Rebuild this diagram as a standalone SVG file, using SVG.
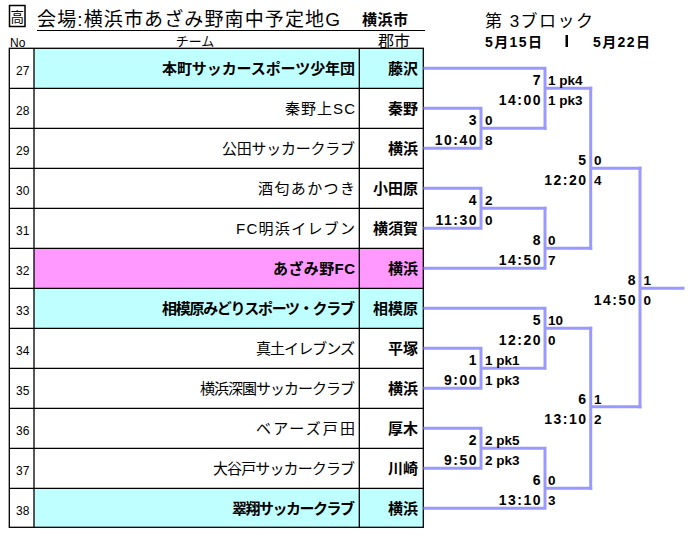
<svg xmlns="http://www.w3.org/2000/svg" width="692" height="555" viewBox="0 0 692 555">
<style>
text{font-family:"Liberation Sans","Noto Sans CJK JP",sans-serif;fill:#000}
.num{font-size:12px}
.team{font-size:15px;text-anchor:end}
.teamb{font-size:15px;text-anchor:end;font-weight:bold}
.city{font-size:15px;text-anchor:end;font-weight:bold}
.grid{stroke:#000;stroke-width:1.3;fill:none}
.conn{stroke:#9999ff;stroke-width:3;fill:none;stroke-linecap:square}
.ml{font-size:14px;font-weight:bold;text-anchor:end;letter-spacing:1.5px}
.mr{font-size:13.5px;font-weight:bold}
.cy{fill:#c0ffff}
.pk{fill:#ff99ff}
</style>
<rect width="692" height="555" fill="#fff"/>
<g id="header">
<rect x="9.5" y="5.5" width="15.5" height="21" fill="none" stroke="#000" stroke-width="1.5"/>
<text x="17.25" y="21.5" font-size="13.5" text-anchor="middle">高</text>
<text x="37" y="26" font-size="19" textLength="303" lengthAdjust="spacing">会場:横浜市あざみ野南中予定地G</text>
<text x="362" y="25" font-size="15" font-weight="bold" textLength="46" lengthAdjust="spacing">横浜市</text>
<line x1="37" y1="30.5" x2="425" y2="30.5" stroke="#000" stroke-width="1"/>
<text x="10" y="47" font-size="12">No</text>
<text x="195" y="46" font-size="13" text-anchor="middle">チーム</text>
<text x="378" y="47" font-size="16">郡市</text>
<text x="485" y="27" font-size="17" textLength="108" lengthAdjust="spacing">第 3ブロック</text>
<text x="485" y="46.5" font-size="14" font-weight="bold" textLength="57" lengthAdjust="spacing">5月15日</text>
<rect x="565.5" y="35" width="2.5" height="12" fill="#000"/>
<text x="593" y="46.5" font-size="14" font-weight="bold" textLength="57" lengthAdjust="spacing">5月22日</text>
</g>
<g id="table">
<rect class="cy" x="34" y="48.3" width="389.3" height="40"/>
<rect class="pk" x="34" y="248.3" width="389.3" height="40"/>
<rect class="cy" x="34" y="288.3" width="389.3" height="40"/>
<rect class="cy" x="34" y="488.3" width="389.3" height="39"/>
<rect class="grid" x="9.3" y="48.3" width="414" height="479"/>
<path class="grid" d="M34,48.3V527.3M359.3,48.3V527.3M9.3,88.3H423.3M9.3,128.3H423.3M9.3,168.3H423.3M9.3,208.3H423.3M9.3,248.3H423.3M9.3,288.3H423.3M9.3,328.3H423.3M9.3,368.3H423.3M9.3,408.3H423.3M9.3,448.3H423.3M9.3,488.3H423.3"/>
</g>
<g id="team27"><text class="num" x="16" y="75">27</text><text class="teamb" x="355" y="74" textLength="193" lengthAdjust="spacing">本町サッカースポーツ少年団</text><text class="city" x="418" y="74">藤沢</text></g>
<g id="team28"><text class="num" x="16" y="115">28</text><text class="team" x="355" y="114" textLength="70" lengthAdjust="spacing">秦野上SC</text><text class="city" x="418" y="114">秦野</text></g>
<g id="team29"><text class="num" x="16" y="155">29</text><text class="team" x="355" y="154" textLength="133" lengthAdjust="spacing">公田サッカークラブ</text><text class="city" x="418" y="154">横浜</text></g>
<g id="team30"><text class="num" x="16" y="195">30</text><text class="team" x="355" y="194" textLength="97" lengthAdjust="spacing">酒匂あかつき</text><text class="city" x="418" y="194">小田原</text></g>
<g id="team31"><text class="num" x="16" y="235">31</text><text class="team" x="355" y="234" textLength="119" lengthAdjust="spacing">FC明浜イレブン</text><text class="city" x="418" y="234">横須賀</text></g>
<g id="team32"><text class="num" x="16" y="275">32</text><text class="teamb" x="355" y="274" textLength="82" lengthAdjust="spacing">あざみ野FC</text><text class="city" x="418" y="274">横浜</text></g>
<g id="team33"><text class="num" x="16" y="315">33</text><text class="teamb" x="355" y="314" textLength="193" lengthAdjust="spacing">相模原みどりスポーツ・クラブ</text><text class="city" x="418" y="314">相模原</text></g>
<g id="team34"><text class="num" x="16" y="355">34</text><text class="team" x="355" y="354" textLength="99" lengthAdjust="spacing">真土イレブンズ</text><text class="city" x="418" y="354">平塚</text></g>
<g id="team35"><text class="num" x="16" y="395">35</text><text class="team" x="355" y="394" textLength="155" lengthAdjust="spacing">横浜深園サッカークラブ</text><text class="city" x="418" y="394">横浜</text></g>
<g id="team36"><text class="num" x="16" y="435">36</text><text class="team" x="355" y="434" textLength="99" lengthAdjust="spacing">ベアーズ戸田</text><text class="city" x="418" y="434">厚木</text></g>
<g id="team37"><text class="num" x="16" y="475">37</text><text class="team" x="355" y="474" textLength="142" lengthAdjust="spacing">大谷戸サッカークラブ</text><text class="city" x="418" y="474">川崎</text></g>
<g id="team38"><text class="num" x="16" y="515">38</text><text class="teamb" x="355" y="514" textLength="123" lengthAdjust="spacing">翠翔サッカークラブ</text><text class="city" x="418" y="514">横浜</text></g>
<g id="connectors">
<path class="conn" d="M425,108.3H481V148.3H425M481,128.3H545"/>
<path class="conn" d="M425,68.3H545V128.3M545,88.3H590.7"/>
<path class="conn" d="M425,188.3H481V228.3H425M481,208.3H545"/>
<path class="conn" d="M425,268.3H545V208.3M545,248.3H590.7"/>
<path class="conn" d="M590.7,88.3V248.3M590.7,168.3H640"/>
<path class="conn" d="M425,308.3H545V368.3M425,348.3H481V388.3H425M481,368.3H545M545,328.3H590.7"/>
<path class="conn" d="M425,428.3H481V468.3H425M481,448.3H545M425,508.3H545V448.3M545,488.3H590.7"/>
<path class="conn" d="M590.7,328.3V488.3M590.7,406.7H640"/>
<path class="conn" d="M640,168.3V406.7M640,288.3H683"/>
</g>
<g id="match-labels">
<text class="ml" x="478" y="125">3</text><text class="ml" x="478" y="145">10:40</text><text class="mr" x="485" y="125">0</text><text class="mr" x="485" y="145">8</text>
<text class="ml" x="542" y="85">7</text><text class="ml" x="542" y="105">14:00</text><text class="mr" x="548" y="85">1 pk4</text><text class="mr" x="548" y="105">1 pk3</text>
<text class="ml" x="478" y="205">4</text><text class="ml" x="478" y="225">11:30</text><text class="mr" x="485" y="205">2</text><text class="mr" x="485" y="225">0</text>
<text class="ml" x="542" y="245">8</text><text class="ml" x="542" y="265">14:50</text><text class="mr" x="548" y="245">0</text><text class="mr" x="548" y="265">7</text>
<text class="ml" x="587.5" y="165">5</text><text class="ml" x="587.5" y="185">12:20</text><text class="mr" x="594" y="165">0</text><text class="mr" x="594" y="185">4</text>
<text class="ml" x="637" y="285">8</text><text class="ml" x="637" y="305">14:50</text><text class="mr" x="643.5" y="285">1</text><text class="mr" x="643.5" y="305">0</text>
<text class="ml" x="542" y="325">5</text><text class="ml" x="542" y="345">12:20</text><text class="mr" x="548" y="325">10</text><text class="mr" x="548" y="345">0</text>
<text class="ml" x="478" y="365">1</text><text class="ml" x="478" y="385">9:00</text><text class="mr" x="485" y="365">1 pk1</text><text class="mr" x="485" y="385">1 pk3</text>
<text class="ml" x="587.5" y="404">6</text><text class="ml" x="587.5" y="424">13:10</text><text class="mr" x="594" y="404">1</text><text class="mr" x="594" y="424">2</text>
<text class="ml" x="478" y="445">2</text><text class="ml" x="478" y="465">9:50</text><text class="mr" x="485" y="445">2 pk5</text><text class="mr" x="485" y="465">2 pk3</text>
<text class="ml" x="542" y="485">6</text><text class="ml" x="542" y="505">13:10</text><text class="mr" x="548" y="485">0</text><text class="mr" x="548" y="505">3</text>
</g>
</svg>
